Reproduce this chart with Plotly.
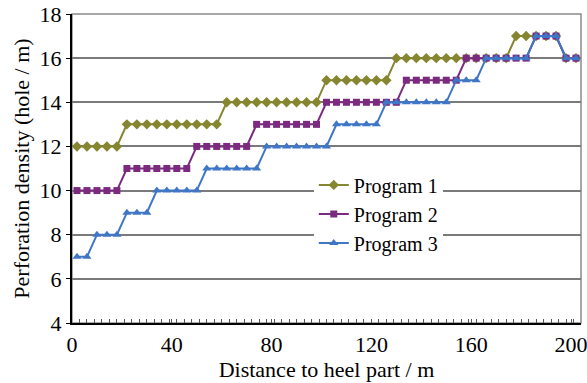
import plotly.graph_objects as go

# Distance along the lateral (m): sampling every 4 m starting at 2 m
distance = [2 + 4 * k for k in range(51)]

# Perforation density per program (hole / m)
program_1 = [12] * 5 + [13] * 10 + [14] * 10 + [15] * 7 + [16] * 12 + [17] * 5 + [16] * 2
program_2 = [10] * 5 + [11] * 7 + [12] * 6 + [13] * 7 + [14] * 8 + [15] * 6 + [16] * 7 + [17] * 3 + [16] * 2
program_3 = [7] * 2 + [8] * 3 + [9] * 3 + [10] * 5 + [11] * 6 + [12] * 7 + [13] * 5 + [14] * 7 + [15] * 3 + [16] * 5 + [17] * 3 + [16] * 2

series_names = ["Program 1", "Program 2", "Program 3"]
series_values = [program_1, program_2, program_3]
colors = ["#868630", "#7b2a80", "#3f76c6"]
symbols = ["diamond", "square", "triangle-up"]
sizes = [8, 7, 8]

FONT = "Liberation Serif"

fig = go.Figure()
for name, vals, c, s, sz in zip(series_names, series_values, colors, symbols, sizes):
    fig.add_trace(go.Scatter(
        x=distance, y=vals, name=name, mode="lines+markers",
        line=dict(color=c, width=2),
        marker=dict(symbol=s, size=sz, color=c),
    ))

# gray frame around the plotting area
fig.add_shape(type="rect", xref="paper", yref="paper", x0=0, x1=1, y0=0, y1=1,
              line=dict(color="#8a8a8a", width=1.5), layer="below")

fig.update_layout(
    width=587, height=383,
    margin=dict(l=72, r=6, t=14, b=60, autoexpand=False),
    paper_bgcolor="white", plot_bgcolor="white",
    font=dict(family=FONT, size=22, color="black"),
    showlegend=True,
    legend=dict(x=0.475, y=0.51, xanchor="left", yanchor="top",
                bgcolor="white", borderwidth=0,
                font=dict(family=FONT, size=20), tracegroupgap=0),
    xaxis=dict(
        range=[0, 204], tickvals=[0, 40, 80, 120, 160, 200],
        ticks="inside", ticklen=4, tickcolor="#555555",
        minor=dict(dtick=3, tick0=0, ticks="inside", ticklen=4, tickcolor="#555555", showgrid=False),
        showgrid=False, zeroline=False,
        showline=True, linecolor="black", linewidth=2,
        ticklabelstandoff=1, ticklabeloverflow="allow", automargin=False,
        title=dict(text="Distance to heel part / m", font=dict(family=FONT, size=22), standoff=2),
        tickfont=dict(family=FONT, size=22),
    ),
    yaxis=dict(
        range=[4, 18], dtick=2, tick0=4,
        ticks="outside", ticklen=4, tickcolor="black",
        showgrid=True, gridcolor="#7a7a7a", gridwidth=1.5,
        zeroline=False, automargin=False,
        showline=True, linecolor="black", linewidth=2,
        title=dict(text="Perforation density (hole / m)", font=dict(family=FONT, size=22), standoff=4),
        tickfont=dict(family=FONT, size=22),
    ),
)

fig.write_html("out.html")
